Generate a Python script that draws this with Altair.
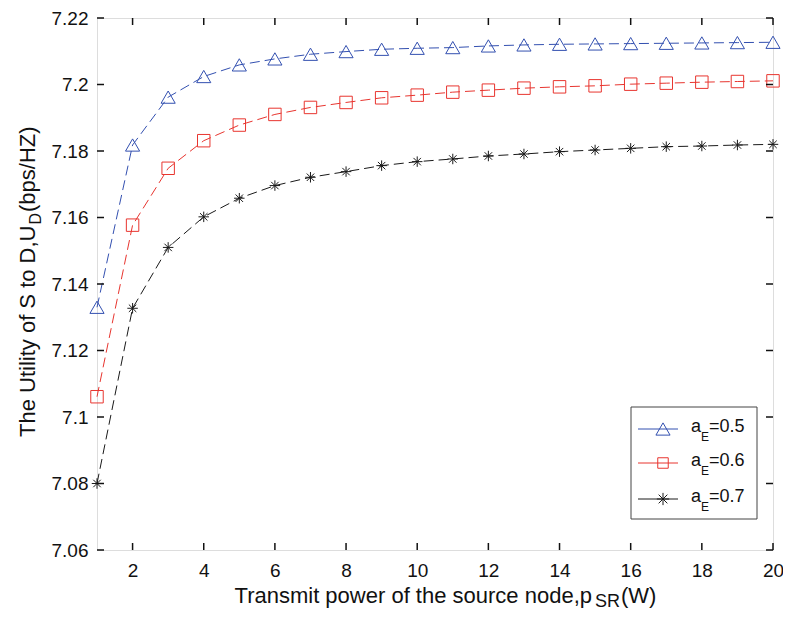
import altair as alt
import pandas as pd

# ---- data ----
power = list(range(1, 21))
u_a05 = [7.1330, 7.1818, 7.1962, 7.2024, 7.2059, 7.2077, 7.2091, 7.2099, 7.2106, 7.2109,
         7.2111, 7.2116, 7.2119, 7.2121, 7.2122, 7.2123, 7.2124, 7.2125, 7.2126, 7.2127]
u_a06 = [7.1061, 7.1577, 7.1748, 7.1831, 7.1878, 7.1910, 7.1931, 7.1946, 7.1960, 7.1968,
         7.1977, 7.1983, 7.1989, 7.1993, 7.1996, 7.2001, 7.2004, 7.2007, 7.2009, 7.2011]
u_a07 = [7.0800, 7.1327, 7.1510, 7.1602, 7.1658, 7.1696, 7.1721, 7.1738, 7.1756, 7.1768,
         7.1776, 7.1785, 7.1791, 7.1798, 7.1803, 7.1808, 7.1813, 7.1815, 7.1818, 7.1820]
series_names = ["0.5", "0.6", "0.7"]
x_ticks = [2, 4, 6, 8, 10, 12, 14, 16, 18, 20]
y_ticks = [7.06, 7.08, 7.10, 7.12, 7.14, 7.16, 7.18, 7.20, 7.22]

W, H = 676, 532
FONT = "Liberation Sans"
colors = ["#3350b0", "#e8352f", "#1a1a1a"]
asterisk = "M0,-1L0,1M-1,0L1,0M-0.71,-0.71L0.71,0.71M-0.71,0.71L0.71,-0.71"
shapes = ["triangle-up", "square", asterisk]
sizes = [200, 110, 150]

rows = []
for name, vals in zip(series_names, [u_a05, u_a06, u_a07]):
    for p, v in zip(power, vals):
        rows.append({"p": p, "u": v, "s": name})
df = pd.DataFrame(rows)

xs = alt.Scale(domain=[1, 20], nice=False)
ys = alt.Scale(domain=[7.06, 7.22], nice=False)
xaxis = alt.Axis(values=x_ticks, domain=False, ticks=False, grid=False, labelFontSize=19,
                 labelFont=FONT, labelColor="#111", labelPadding=11, labelFlush=False,
                 labelOverlap=False, title=None)
yaxis = alt.Axis(values=y_ticks, domain=False, ticks=False, grid=False, labelFontSize=19,
                 labelFont=FONT, labelColor="#111", labelPadding=9, labelFlush=False,
                 labelOverlap=False, format=".2~f", title=None)

cscale = alt.Scale(domain=series_names, range=colors)
base = alt.Chart(df)
lines = base.mark_line(strokeWidth=1, strokeDash=[10, 5]).encode(
    x=alt.X("p:Q", scale=xs, axis=xaxis),
    y=alt.Y("u:Q", scale=ys, axis=yaxis),
    color=alt.Color("s:N", scale=cscale, legend=None),
    detail="s:N",
)
points = base.mark_point(filled=False, strokeWidth=1, opacity=1).encode(
    x=alt.X("p:Q", scale=xs),
    y=alt.Y("u:Q", scale=ys),
    color=alt.Color("s:N", scale=cscale, legend=None),
    shape=alt.Shape("s:N", scale=alt.Scale(domain=series_names, range=shapes), legend=None),
    size=alt.Size("s:N", scale=alt.Scale(domain=series_names, range=sizes), legend=None),
)

# inward tick marks on all four sides
xt = alt.Chart(pd.DataFrame({"t": x_ticks}))
yt = alt.Chart(pd.DataFrame({"t": y_ticks}))
tick_style = dict(color="#111", strokeWidth=1.5)
ticks = [
    xt.mark_rule(**tick_style).encode(x=alt.X("t:Q", scale=xs), y=alt.value(H), y2=alt.value(H - 7)),
    xt.mark_rule(**tick_style).encode(x=alt.X("t:Q", scale=xs), y=alt.value(0), y2=alt.value(7)),
    yt.mark_rule(**tick_style).encode(y=alt.Y("t:Q", scale=ys), x=alt.value(0), x2=alt.value(7)),
    yt.mark_rule(**tick_style).encode(y=alt.Y("t:Q", scale=ys), x=alt.value(W), x2=alt.value(W - 7)),
]

one = alt.InlineData(values=[{"k": 1}])


def txt(s, x, y, size, align="left", angle=0, color="#111"):
    kw = dict(align=align, baseline="alphabetic", fontSize=size, font=FONT, color=color)
    if angle:
        kw["angle"] = angle
    return alt.Chart(one).mark_text(**kw).encode(
        x=alt.value(x), y=alt.value(y), text=alt.value(s))


texts = []
# x axis title with subscript
texts.append(txt("Transmit power of the source node,p", 495, 585, 22, align="right"))
texts.append(txt("SR", 498, 589, 18))
texts.append(txt("(W)", 524, 585, 22))
# y axis title with subscript (rotated)
ytx = -62
texts.append(txt("The Utility of S to D,U", ytx, 419, 22, angle=270))
texts.append(txt("D", ytx + 6, 206.5, 16, angle=270))
texts.append(txt("(bps/HZ)", ytx, 194, 22, angle=270))

# custom legend
legend_box = alt.Chart(one).mark_rect(fill="white", stroke="#444", strokeWidth=1).encode(
    x=alt.value(534), x2=alt.value(660), y=alt.value(389), y2=alt.value(501))
leg = [legend_box]
row_y = [411, 445, 481]
for i, name in enumerate(series_names):
    yy = row_y[i]
    leg.append(alt.Chart(one).mark_rule(color=colors[i], strokeWidth=1).encode(
        x=alt.value(541), x2=alt.value(581), y=alt.value(yy)))
    leg.append(alt.Chart(one).mark_point(filled=False, strokeWidth=1, color=colors[i], opacity=1,
                                         shape=shapes[i], size=sizes[i]).encode(
        x=alt.value(566), y=alt.value(yy)))
    leg.append(txt("a", 594, yy + 3, 18))
    leg.append(txt("E", 604, yy + 12, 12))
    leg.append(txt("=" + name, 612, yy + 3, 18))

chart = alt.layer(lines, points, *ticks, *texts, *leg).properties(
    width=W, height=H,
    autosize=alt.AutoSizeParams(type="none"),
    padding={"left": 89, "top": 10, "right": 10, "bottom": 62},
).configure_view(stroke="#111", strokeWidth=1.5).configure(background="white")

chart.save("out.html", embed_options={"renderer": "svg", "actions": False})
